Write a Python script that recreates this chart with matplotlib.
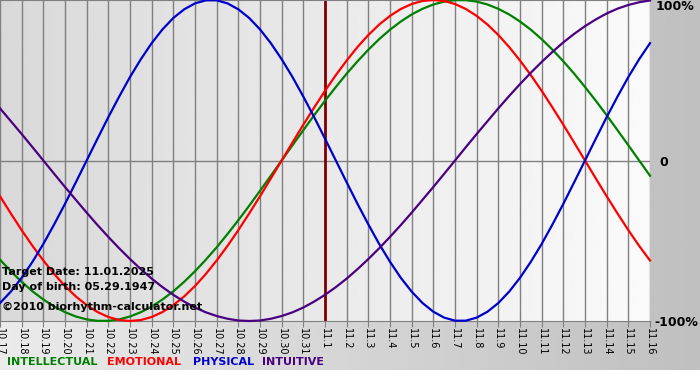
import numpy as np
import matplotlib.pyplot as plt

# dates shown on the x axis
days = ['10.17', '10.18', '10.19', '10.20', '10.21', '10.22', '10.23', '10.24',
        '10.25', '10.26', '10.27', '10.28', '10.29', '10.30', '10.31',
        '11.1', '11.2', '11.3', '11.4', '11.5', '11.6', '11.7', '11.8', '11.9',
        '11.10', '11.11', '11.12', '11.13', '11.14', '11.15', '11.16']

# values read every half day, from 10.17 to 11.16 (-1 .. 1)
intellectual = [-0.618, -0.690, -0.756, -0.815, -0.866, -0.910, -0.945, -0.972, -0.990, -0.999,
                -0.999, -0.990, -0.972, -0.945, -0.910, -0.866, -0.815, -0.756, -0.690, -0.618,
                -0.541, -0.458, -0.372, -0.282, -0.189, -0.095, 0.000, 0.095, 0.189, 0.282,
                0.372, 0.458, 0.541, 0.618, 0.690, 0.756, 0.815, 0.866, 0.910, 0.945,
                0.972, 0.990, 0.999, 0.999, 0.990, 0.972, 0.945, 0.910, 0.866, 0.815,
                0.756, 0.690, 0.618, 0.541, 0.458, 0.372, 0.282, 0.189, 0.095, 0.000, -0.095]
emotional = [-0.223, -0.330, -0.434, -0.532, -0.623, -0.707, -0.782, -0.847, -0.901, -0.944,
             -0.975, -0.994, -1.000, -0.994, -0.975, -0.944, -0.901, -0.847, -0.782, -0.707,
             -0.623, -0.532, -0.434, -0.330, -0.223, -0.112, 0.000, 0.112, 0.223, 0.330,
             0.434, 0.532, 0.623, 0.707, 0.782, 0.847, 0.901, 0.944, 0.975, 0.994,
             1.000, 0.994, 0.975, 0.944, 0.901, 0.847, 0.782, 0.707, 0.623, 0.532,
             0.434, 0.330, 0.223, 0.112, 0.000, -0.112, -0.223, -0.330, -0.434, -0.532, -0.623]
physical = [-0.888, -0.817, -0.731, -0.631, -0.520, -0.398, -0.270, -0.136, 0.000, 0.136,
            0.270, 0.398, 0.520, 0.631, 0.731, 0.817, 0.888, 0.942, 0.979, 0.998,
            0.998, 0.979, 0.942, 0.888, 0.817, 0.731, 0.631, 0.520, 0.398, 0.270,
            0.136, 0.000, -0.136, -0.270, -0.398, -0.520, -0.631, -0.731, -0.817, -0.888,
            -0.942, -0.979, -0.998, -0.998, -0.979, -0.942, -0.888, -0.817, -0.731, -0.631,
            -0.520, -0.398, -0.270, -0.136, 0.000, 0.136, 0.270, 0.398, 0.520, 0.631, 0.731]
intuitive = [0.325, 0.245, 0.165, 0.083, 0.000, -0.083, -0.165, -0.245, -0.325, -0.402,
             -0.476, -0.547, -0.614, -0.677, -0.736, -0.789, -0.837, -0.879, -0.916, -0.946,
             -0.969, -0.986, -0.997, -1.000, -0.997, -0.986, -0.969, -0.946, -0.916, -0.879,
             -0.837, -0.789, -0.736, -0.677, -0.614, -0.547, -0.476, -0.402, -0.325, -0.245,
             -0.165, -0.083, 0.000, 0.083, 0.165, 0.245, 0.325, 0.402, 0.476, 0.547,
             0.614, 0.677, 0.736, 0.789, 0.837, 0.879, 0.916, 0.946, 0.969, 0.986, 0.997]

target_day = '11.1'
legend_names = ['INTELLECTUAL', 'EMOTIONAL', 'PHYSICAL', 'INTUITIVE']
colors = ['#008000', '#ff0000', '#0000cd', '#4b0082']

W, H = 700, 380
fig = plt.figure(figsize=(W / 100, H / 100), dpi=100)
fig.patch.set_facecolor('white')

# figure background: grey gradient, white strip at the very bottom
bg = fig.add_axes([0, 0, 1, 1])
bg.set_xlim(0, 1)
bg.set_ylim(0, 1)
bg.axis('off')
bg.imshow(np.linspace(0.92, 0.75, 256)[None, :], extent=[0, 1, 10 / H, 1],
          aspect='auto', cmap='gray', vmin=0, vmax=1)

ax = fig.add_axes([0, 59 / H, 650 / W, 321 / H])
x = np.arange(len(days))
xs = np.arange(len(physical)) * 0.5  # half-day samples
ax.set_xlim(0, len(days) - 1)
ax.set_ylim(-1, 1)
ax.imshow(np.linspace(0.85, 0.98, 256)[None, :], extent=[0, len(days) - 1, -1, 1],
          aspect='auto', cmap='gray', vmin=0, vmax=1, zorder=0)

for i in x:
    ax.axvline(i, color='#808080', lw=1, zorder=1)
ax.axhline(0, color='#808080', lw=1, zorder=1)
ax.axvline(days.index(target_day), color='#800000', lw=2, zorder=2)

for vals, c in zip([intellectual, emotional, physical, intuitive], colors):
    ax.plot(xs, vals, color=c, lw=1.6, zorder=3, clip_on=False)

for s in ['left', 'right']:
    ax.spines[s].set_visible(False)
for s in ['top', 'bottom']:
    ax.spines[s].set_color('#808080')
ax.set_yticks([])
ax.set_xticks(x)
ax.set_xticklabels(days, rotation=270, fontsize=7)
ax.tick_params(axis='x', length=4, color='#808080', pad=1)

# right side percent labels
fig.text(656 / W, 1 - 7 / H, '100%', fontsize=9, weight='bold', va='center')
fig.text(659 / W, 1 - 162 / H, '0', fontsize=9, weight='bold', va='center')
fig.text(654 / W, 1 - 322 / H, '-100%', fontsize=9, weight='bold', va='center')

# info text
fig.text(2 / W, 1 - 272 / H, 'Target Date: 11.01.2025', fontsize=8, weight='bold', va='center')
fig.text(2 / W, 1 - 287 / H, 'Day of birth: 05.29.1947', fontsize=8, weight='bold', va='center')
fig.text(2 / W, 1 - 307 / H, '\u00a92010 biorhythm-calculator.net', fontsize=8, weight='bold', va='center')

# legend
for name, c, px in zip(legend_names, colors, [7, 107, 193, 262]):
    fig.text(px / W, 1 - 362 / H, name, fontsize=8, weight='bold', color=c, va='center')

fig.savefig('out.png', dpi=100)
